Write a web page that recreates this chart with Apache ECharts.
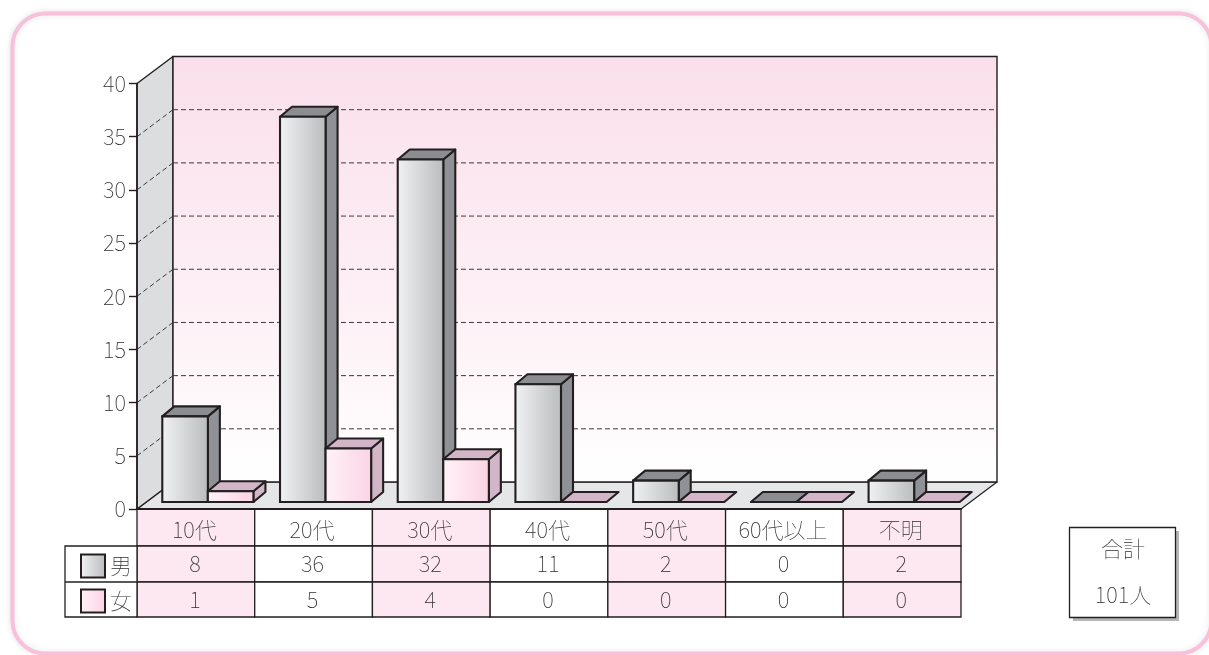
<!DOCTYPE html>
<html>
<head>
<meta charset="utf-8">
<style>html,body{margin:0;padding:0;background:#fff}#chart{width:1209px;height:655px}</style>
<script src="https://cdn.jsdelivr.net/npm/echarts@6/dist/echarts.min.js"></script>
</head>
<body>
<div id="chart"></div>
<script>
// 年代別・男女別の人数
const categories = ['10代', '20代', '30代', '40代', '50代', '60代以上', '不明'];
const maleValues = [8, 36, 32, 11, 2, 0, 2];
const femaleValues = [1, 5, 4, 0, 0, 0, 0];
const seriesNames = ['男', '女'];
const yTicks = [0, 5, 10, 15, 20, 25, 30, 35, 40];
const totalCaption = '合計';
const totalText = '101人';

const FONT_FAMILY = '"Noto Sans CJK JP",sans-serif';
const FONT = '100 22px ' + FONT_FAMILY;
const INK = '#231f20';
const TEXT = '#2e2e30';

// 奥行きの向き（壁・床）と、棒の置かれる位置・棒自身の奥行き
const WALL_DX = 36, WALL_DY = -27;
const BAR_SHIFT_X = 12, BAR_SHIFT_Y = -7;
const BAR_DX = 12, BAR_DY = -10;
const BAR_RATIO = 0.387;
const BAR_RISE = 1.006;

const hGrad = (a, b) => ({
  type: 'linear', x: 0, y: 0, x2: 1, y2: 0,
  colorStops: [{ offset: 0, color: a }, { offset: 1, color: b }]
});
const maleFront = hGrad('#f1f2f3', '#b9bbbd');
const femaleFront = hGrad('#fff2f7', '#fbd3e4');

function poly(points, fill, stroke, width) {
  return { type: 'polygon', shape: { points }, style: { fill, stroke: stroke || INK, lineWidth: width === undefined ? 2.1 : width, lineJoin: 'round' } };
}

// 3D風の棒：side = 0 は左（男）、1 は右（女）
function barRenderer(side, front, sideFill, topFill) {
  return function (params, api) {
    const i = api.value(0), v = api.value(1);
    const base = api.coord([i, 0]);
    const top = api.coord([i, v]);
    const w = api.size([1, 0])[0] * BAR_RATIO;
    const x0 = base[0] + BAR_SHIFT_X + (side - 1) * w;
    const x1 = x0 + w;
    const y0 = base[1] + BAR_SHIFT_Y;
    const y1 = y0 - (base[1] - top[1]) * BAR_RISE;
    const children = [];
    if (v > 0) {
      children.push(poly([[x1, y0], [x1 + BAR_DX, y0 + BAR_DY], [x1 + BAR_DX, y1 + BAR_DY], [x1, y1]], sideFill));
    }
    children.push(poly([[x0, y1], [x0 + BAR_DX, y1 + BAR_DY], [x1 + BAR_DX, y1 + BAR_DY], [x1, y1]], topFill));
    if (v > 0) {
      children.push({ type: 'rect', shape: { x: x0, y: y1, width: w, height: y0 - y1 }, style: { fill: front, stroke: INK, lineWidth: 2.1 } });
    }
    return { type: 'group', children };
  };
}

// 左壁・奥壁・床と破線の目盛線
function chamberRenderer(params, api) {
  const cs = params.coordSys;
  const L = cs.x, R = cs.x + cs.width, B = cs.y + cs.height, T = cs.y;
  const backFill = {
    type: 'linear', x: 0, y: 0, x2: 0, y2: 1,
    colorStops: [{ offset: 0, color: '#fadfea' }, { offset: 0.55, color: '#fdeff5' }, { offset: 1, color: '#ffffff' }]
  };
  const children = [
    poly([[L, B], [L + WALL_DX, B + WALL_DY], [R + WALL_DX, B + WALL_DY], [R, B]], '#e5e6e8', INK, 1.2),
    poly([[L, T], [L + WALL_DX, T + WALL_DY], [L + WALL_DX, B + WALL_DY], [L, B]], '#dcdddf', INK, 1.4),
    { type: 'rect', shape: { x: L + WALL_DX, y: T + WALL_DY, width: cs.width, height: cs.height }, style: { fill: backFill, stroke: INK, lineWidth: 1.4 } }
  ];
  yTicks.forEach(t => {
    if (t === 0 || t === 40) return;
    const y = api.coord([0, t])[1];
    const dash = { stroke: '#3a3a3c', lineWidth: 1, lineDash: [5, 3], fill: null };
    children.push({ type: 'line', shape: { x1: L, y1: y, x2: L + WALL_DX, y2: y + WALL_DY }, style: dash });
    children.push({ type: 'line', shape: { x1: L + WALL_DX, y1: y + WALL_DY, x2: R + WALL_DX, y2: y + WALL_DY }, style: dash });
  });
  return { type: 'group', children };
}

// 下のデータ表：1 行目は軸ラベル、2・3 行目は数値
const ROW_Y = [0, 37, 73, 108];
const HEAD_LEFT = 72;
function tableRenderer(params, api) {
  const i = api.value(0), m = api.value(1), f = api.value(2);
  const base = api.coord([i, 0]);
  const w = api.size([1, 0])[0];
  const x = base[0] - w / 2, y = base[1];
  const h = ROW_Y[3];
  const children = [];
  const cell = (ry, fill) => ({
    type: 'rect',
    shape: { x, y: y + ROW_Y[ry], width: w, height: ROW_Y[ry + 1] - ROW_Y[ry] },
    style: { fill, stroke: INK, lineWidth: 1.3 }
  });
  const pink = '#fde7f0';
  const odd = i % 2 === 0;
  children.push(cell(0, odd ? pink : '#fff'));
  children.push(cell(1, odd ? pink : '#fff'));
  children.push(cell(2, odd ? pink : '#fff'));
  const label = (ry, s) => ({
    type: 'text',
    style: {
      text: String(s), x: x + w / 2 - 1, y: y + (ROW_Y[ry] + ROW_Y[ry + 1]) / 2,
      align: 'center', verticalAlign: 'middle', font: FONT, fill: TEXT
    }
  });
  children.push(label(1, m), label(2, f));
  if (i === 0) {
    children.push({ type: 'rect', shape: { x: x - HEAD_LEFT, y: y + ROW_Y[1], width: HEAD_LEFT, height: h - ROW_Y[1] }, style: { fill: '#fff', stroke: INK, lineWidth: 1.3 } });
    children.push({ type: 'line', shape: { x1: x - HEAD_LEFT, y1: y + ROW_Y[2], x2: x, y2: y + ROW_Y[2] }, style: { stroke: INK, lineWidth: 1.3 } });
  }
  return { type: 'group', children };
}

const maleSeriesData = categories.map((c, i) => [i, maleValues[i]]);
const femaleSeriesData = categories.map((c, i) => [i, femaleValues[i]]);
const tableData = categories.map((c, i) => [i, maleValues[i], femaleValues[i]]);

const chart = echarts.init(document.getElementById('chart'), null, { renderer: 'canvas' });
chart.setOption({
  animation: false,
  backgroundColor: '#fff',
  grid: { left: 137, right: 248, top: 83.5, bottom: 146, containLabel: false },
  xAxis: {
    type: 'category', data: categories, z: 6,
    axisLine: { show: true, onZero: false, lineStyle: { color: INK, width: 2 } },
    axisTick: { show: false }, splitLine: { show: false },
    axisLabel: { interval: 0, margin: 10, color: TEXT, fontSize: 22, fontWeight: 100, fontFamily: FONT_FAMILY, padding: [0, 3, 0, 0] }
  },
  yAxis: {
    type: 'value', min: 0, max: 40, interval: 5, z: 6,
    axisLine: { show: true, lineStyle: { color: INK, width: 1.6 } },
    axisTick: { show: true, length: 8, lineStyle: { color: INK, width: 1.4 } },
    splitLine: { show: false },
    axisLabel: { margin: 11, color: TEXT, fontSize: 22, fontWeight: 100, fontFamily: FONT_FAMILY }
  },
  legend: {
    data: seriesNames, orient: 'vertical', icon: 'rect', left: 80, top: 553.5,
    itemWidth: 24, itemHeight: 23, itemGap: 10, selectedMode: false,
    textStyle: { color: TEXT, fontSize: 22, fontWeight: 100, fontFamily: FONT_FAMILY },
    padding: 0, z: 8
  },
  series: [
    { type: 'custom', name: 'chamber', z: 1, silent: true, data: [[0]], renderItem: chamberRenderer, clip: false },
    { type: 'custom', name: 'table', z: 2, silent: true, data: tableData, encode: { x: 0, y: 1 }, renderItem: tableRenderer, clip: false },
    {
      type: 'custom', name: seriesNames[0], z: 3, data: maleSeriesData, encode: { x: 0, y: 1 }, clip: false,
      itemStyle: { color: maleFront, borderColor: INK, borderWidth: 2 },
      renderItem: barRenderer(0, maleFront, '#8f9194', '#8b8d90')
    },
    {
      type: 'custom', name: seriesNames[1], z: 4, data: femaleSeriesData, encode: { x: 0, y: 1 }, clip: false,
      itemStyle: { color: femaleFront, borderColor: INK, borderWidth: 2 },
      renderItem: barRenderer(1, femaleFront, '#d2b6c7', '#d2b6c7')
    }
  ],
  graphic: [
    { type: 'rect', z: 0, shape: { x: 12.5, y: 13.5, width: 1199, height: 640, r: 33 }, style: { fill: '#fff', stroke: '#f8c0da', lineWidth: 4, shadowBlur: 6, shadowColor: 'rgba(0,0,0,0.1)' } },
    { type: 'rect', z: 0, shape: { x: 1073, y: 531, width: 106, height: 90 }, style: { fill: '#b5b6b8' } },
    { type: 'rect', z: 1, shape: { x: 1069.5, y: 527.5, width: 106, height: 90 }, style: { fill: '#fff', stroke: INK, lineWidth: 1.3 } },
    { type: 'text', z: 2, x: 1123, y: 549, style: { text: totalCaption, font: FONT, fill: TEXT, align: 'center', verticalAlign: 'middle' } },
    { type: 'text', z: 2, x: 1123, y: 595, style: { text: totalText, font: FONT, fill: TEXT, align: 'center', verticalAlign: 'middle' } }
  ]
});
</script>
</body>
</html>
